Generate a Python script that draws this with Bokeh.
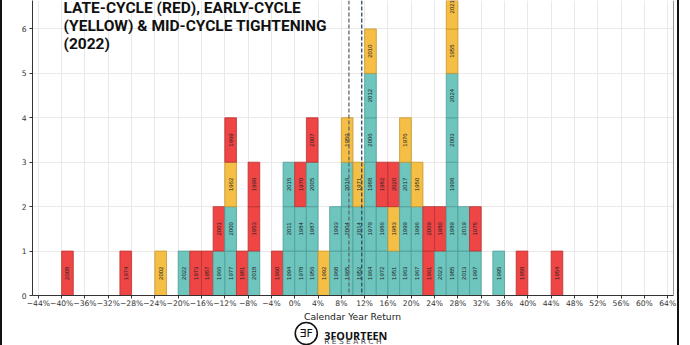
import math
from bokeh.plotting import figure
from bokeh.layouts import column
from bokeh.models import Range1d, FixedTicker, Span, Label, ColumnDataSource
from bokeh.core.properties import value
from bokeh.embed import file_html
from bokeh.resources import INLINE

# ---- data (bin lower edge, year label, cycle) bottom-to-top ----
bin_start = [-40, -30, -24, -20, -18, -16,
             -14, -14,
             -12, -12, -12, -12,
             -10,
             -8, -8, -8,
             -4,
             -2, -2, -2,
             0, 0, 0,
             2, 2, 2, 2,
             4,
             6, 6,
             8, 8, 8, 8,
             10, 10, 10,
             12, 12, 12, 12, 12, 12,
             14, 14, 14,
             16, 16, 16,
             18, 18, 18, 18,
             20, 20, 20,
             22, 22,
             24, 24,
             26, 26, 26, 26, 26, 26, 26,
             28, 28,
             30, 30,
             34, 38, 44]
years = ["2008", "1974", "2002", "2022", "1973", "1957",
         "1966", "2001",
         "1977", "2000", "1962", "1969",
         "1981",
         "2018", "1953", "1990",
         "1960",
         "1994", "2011", "2015",
         "1978", "1984", "1970",
         "1956", "1987", "2005", "2007",
         "1992",
         "1968", "1993",
         "1965", "2004", "2016", "1959",
         "1952", "2014", "1971",
         "1964", "1979", "1988", "2006", "2012", "2010",
         "1972", "1986", "1982",
         "1951", "1983", "2020",
         "1963", "1999", "2017", "1976",
         "1967", "1996", "1950",
         "1961", "2009",
         "2023", "1980",
         "1985", "1989", "1998", "2003", "2024", "1955", "2021",
         "2013", "2019",
         "1997", "1975",
         "1995", "1958", "1954"]
cycle = ["late", "late", "early", "mid", "late", "late",
         "mid", "late",
         "mid", "mid", "early", "late",
         "late",
         "mid", "late", "late",
         "late",
         "mid", "mid", "mid",
         "mid", "mid", "late",
         "mid", "mid", "mid", "late",
         "early",
         "mid", "mid",
         "mid", "mid", "mid", "early",
         "mid", "mid", "early",
         "mid", "mid", "mid", "mid", "mid", "early",
         "mid", "mid", "late",
         "mid", "early", "late",
         "mid", "mid", "mid", "early",
         "mid", "mid", "early",
         "late", "late",
         "mid", "late",
         "mid", "mid", "mid", "mid", "mid", "early", "early",
         "mid", "mid",
         "mid", "late",
         "mid", "late", "late"]
bin_width = 2
mean_return = 9.3
median_return = 11.5
x_ticks = [-44, -40, -36, -32, -28, -24, -20, -16, -12, -8, -4, 0, 4, 8, 12, 16,
           20, 24, 28, 32, 36, 40, 44, 48, 52, 56, 60, 64]
x_tick_labels = ["\u221244%", "\u221240%", "\u221236%", "\u221232%", "\u221228%", "\u221224%",
                 "\u221220%", "\u221216%", "\u221212%", "\u22128%", "\u22124%", "0%", "4%",
                 "8%", "12%", "16%", "20%", "24%", "28%", "32%", "36%", "40%", "44%", "48%",
                 "52%", "56%", "60%", "64%"]
y_ticks = [0, 1, 2, 3, 4, 5, 6]
title_lines = ["LATE-CYCLE (RED), EARLY-CYCLE", "(YELLOW) & MID-CYCLE TIGHTENING", "(2022)"]

fill_colors = {"mid": "#6DC5BE", "late": "#EF4545", "early": "#F5BE45"}
line_colors = {"mid": "#4F9E98", "late": "#B83434", "early": "#C8962F"}

# stacking
counts = {}
xs, bottoms, tops, fills, lines = [], [], [], [], []
for b, c in zip(bin_start, cycle):
    lvl = counts.get(b, 0)
    counts[b] = lvl + 1
    xs.append(b + bin_width / 2)
    bottoms.append(lvl)
    tops.append(lvl + 1)
    fills.append(fill_colors[c])
    lines.append(line_colors[c])
src = ColumnDataSource(dict(x=xs, bottom=bottoms, top=tops, fill=fills, line=lines,
                            year=years, ymid=[b + 0.5 for b in bottoms]))

border = {"border-left": "2px solid #111", "border-right": "2px solid #111"}
p = figure(width=679, height=310, output_backend="svg", toolbar_location=None,
           x_range=Range1d(-45, 65), y_range=Range1d(0, 6.64),
           min_border_left=30, min_border_right=8, min_border_top=0, min_border_bottom=13,
           styles=border)
p.outline_line_color = None
p.background_fill_color = "white"

p.vbar(x="x", width=bin_width, bottom="bottom", top="top", source=src,
       fill_color="fill", line_color="line", line_width=0.8)
p.text(x="x", y="ymid", text="year", source=src, angle=math.pi / 2,
       text_align="center", text_baseline="middle", text_font_size="6px",
       text_color="#222222")

for loc, col in [(mean_return, "#666666"), (median_return, "#2E4A62")]:
    p.add_layout(Span(location=loc, dimension="height", line_color=col,
                      line_dash="4 2", line_width=1.3))
p.add_layout(Span(location=65, dimension="height", line_color="#333333", line_width=1))

# axes
p.xaxis.ticker = FixedTicker(ticks=x_ticks)
p.xaxis.major_label_overrides = {t: l for t, l in zip(x_ticks, x_tick_labels)}
p.yaxis.ticker = FixedTicker(ticks=y_ticks)
for ax in (p.xaxis, p.yaxis):
    ax.axis_line_color = "#333333"
    ax.major_tick_line_color = "#333333"
    ax.major_tick_out = 3
    ax.major_tick_in = 0
    ax.minor_tick_line_color = None
    ax.major_label_text_color = "#333333"
    ax.major_label_text_font = "DejaVu Sans"
    ax.major_label_text_font_size = "7.6px"
p.xaxis.major_label_standoff = 0
p.yaxis.major_label_standoff = 3

p.xgrid.ticker = FixedTicker(ticks=x_ticks)
p.grid.grid_line_color = "#E9E9E9"
p.grid.grid_line_width = 1

# y label
p.add_layout(Label(x=-19, y=189, x_units="screen", y_units="screen", text="Frequency",
                   angle=math.pi / 2, text_align="center", text_baseline="middle",
                   text_font="DejaVu Sans", text_font_size="9.2px", text_color="#222222"))

# title
for i, line in enumerate(title_lines):
    p.add_layout(Label(x=31, y=288 - i * 18, x_units="screen", y_units="screen", text=line,
                       text_font="Roboto", text_font_style="bold", text_font_size="15.5px",
                       text_color="#111111", text_baseline="alphabetic"))

# bottom strip: axis label and logo
q = figure(width=679, height=35, output_backend="svg", toolbar_location=None,
           x_range=Range1d(0, 679), y_range=Range1d(0, 35),
           x_axis_location=None, y_axis_location=None,
           min_border_left=0, min_border_right=0, min_border_top=0, min_border_bottom=0,
           styles=border)
q.grid.visible = False
q.outline_line_color = None
q.text(x=[339], y=[29], text=["Calendar Year Return"], text_align="center",
       text_baseline="middle", text_font=value("DejaVu Sans"),
       text_font_size="9.2px", text_color="#222222")
q.scatter(x=[290], y=[12], marker="circle", size=22, fill_color=None,
          line_color="#111111", line_width=1.6)
q.text(x=[290], y=[12], text=["\u018eF"], text_align="center", text_baseline="middle",
       text_font=value("DejaVu Sans"), text_font_size="11px", text_color="#111111")
q.text(x=[309], y=[10], text=["3FOURTEEN"], text_align="left", text_baseline="alphabetic",
       text_font=value("Open Sans"), text_font_style="bold", text_font_size="10.8px",
       text_color="#111111")
q.text(x=[309], y=[4], text=["R E S E A R C H"], text_align="left",
       text_baseline="alphabetic", text_font=value("DejaVu Sans"),
       text_font_size="7.5px", text_color="#444444")

layout = column(p, q, spacing=0)
open("out.html", "w").write(file_html(layout, INLINE))
